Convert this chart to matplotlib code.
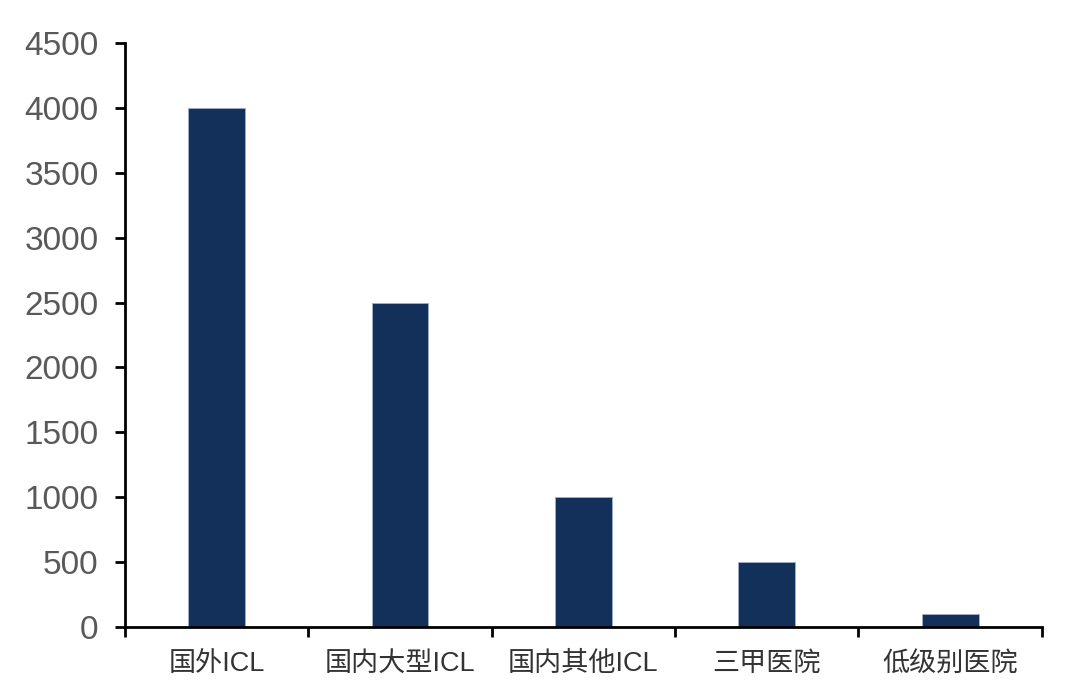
import matplotlib.pyplot as plt
import numpy as np

plt.rcParams['font.family'] = ['Liberation Sans', 'Noto Sans CJK SC', 'DejaVu Sans']

categories = ['国外ICL', '国内大型ICL', '国内其他ICL', '三甲医院', '低级别医院']
values = [4000, 2500, 1000, 500, 100]

fig = plt.figure(figsize=(10.8, 6.99), dpi=100)
ax = fig.add_axes([0.1157, 0.103, 0.849, 0.8355])

x = np.arange(len(categories))
ax.bar(x, values, width=0.31, color='#12305a', edgecolor='#9fb0c8', linewidth=0.6)

ax.set_xlim(-0.5, len(categories) - 0.5)
ax.set_ylim(0, 4500)
ax.set_yticks(np.arange(0, 4501, 500))

ax.set_xticks(x)
ax.set_xticklabels(categories, fontsize=19.5, color='#333333')
ax.set_xticks(np.arange(-0.5, len(categories), 1), minor=True)
ax.tick_params(axis='x', which='major', length=0, pad=17)
ax.tick_params(axis='x', which='minor', length=7, width=2, direction='out')
ax.tick_params(axis='y', length=7, width=2, direction='out', labelsize=24,
               labelcolor='#595959', pad=12)

for s in ['top', 'right']:
    ax.spines[s].set_visible(False)
for s in ['left', 'bottom']:
    ax.spines[s].set_linewidth(2)

fig.savefig('out.png', dpi=100)
